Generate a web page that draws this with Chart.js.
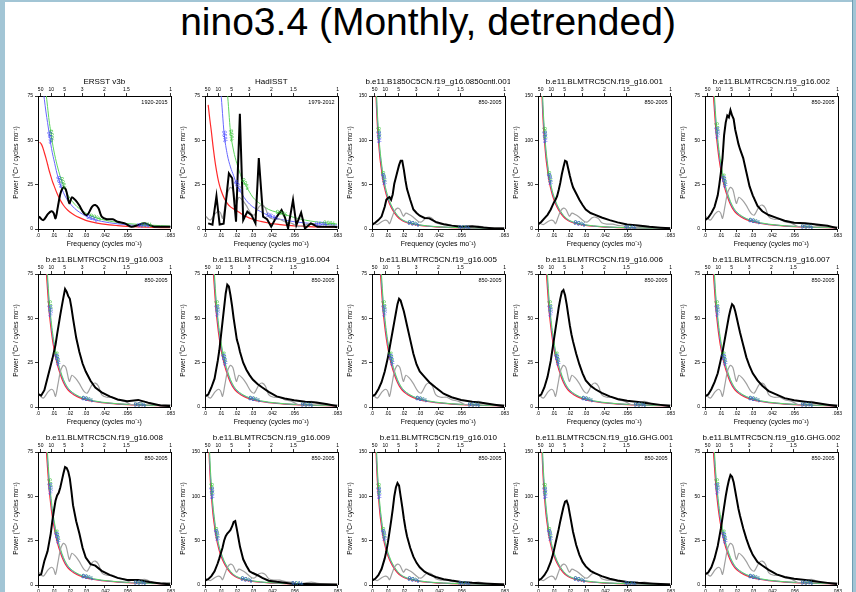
<!DOCTYPE html>
<html>
<head>
<meta charset="utf-8">
<script src="https://cdn.jsdelivr.net/npm/chart.js@4"></script>
<style>
  body { margin: 0; width: 856px; height: 592px; overflow: hidden; background: #fff; position: relative;
         font-family: "Liberation Sans", Arial, sans-serif; }
  .strip { position: absolute; background: #a2c5d5; }
  #title { position: absolute; left: 0; width: 856px; top: 2px; text-align: center;
           font-size: 39px; line-height: 39px; color: #000; }
  canvas { position: absolute; }
</style>
</head>
<body>
<div class="strip" style="left:0;top:0;width:5px;height:592px"></div>
<div class="strip" style="left:0;top:0;width:856px;height:2px"></div>
<div class="strip" style="left:852px;top:0;width:4px;height:592px;border-left:1px solid #6f9db2"></div>
<div id="title">nino3.4 (Monthly, detrended)</div>
<script>
// ---- axis ticks ----
const bottomTickValues = [0, 0.01, 0.02, 0.03, 0.042, 0.056, 0.083];
const bottomTickLabels = ['.0', '.01', '.02', '.03', '.042', '.056', '.083'];
const topTickPeriods = [50, 10, 5, 3, 2, 1.5, 1];     // years
const topTickLabels = ['50', '10', '5', '3', '2', '1.5', '1'];
const yTicks75 = [0, 25, 50, 75];
const yTicks150 = [0, 50, 100, 150];

// ---- panels ----
const panelNames = [
  'ERSST v3b', 'HadISST', 'b.e11.B1850C5CN.f19_g16.0850cntl.001',
  'b.e11.BLMTRC5CN.f19_g16.001', 'b.e11.BLMTRC5CN.f19_g16.002',
  'b.e11.BLMTRC5CN.f19_g16.003', 'b.e11.BLMTRC5CN.f19_g16.004', 'b.e11.BLMTRC5CN.f19_g16.005',
  'b.e11.BLMTRC5CN.f19_g16.006', 'b.e11.BLMTRC5CN.f19_g16.007',
  'b.e11.BLMTRC5CN.f19_g16.008', 'b.e11.BLMTRC5CN.f19_g16.009', 'b.e11.BLMTRC5CN.f19_g16.010',
  'b.e11.BLMTRC5CN.f19_g16.GHG.001', 'b.e11.BLMTRC5CN.f19_g16.GHG.002'
];
const panelYears = ['1920-2015', '1979-2012', '850-2005', '850-2005', '850-2005',
  '850-2005', '850-2005', '850-2005', '850-2005', '850-2005',
  '850-2005', '850-2005', '850-2005', '850-2005', '850-2005'];
const panelYMax = [75, 75, 150, 150, 75, 75, 75, 75, 75, 75, 75, 150, 150, 150, 75];

// ---- observed spectra ----
const ersstFreq = [0.0006, 0.0033, 0.0063, 0.0084, 0.0098, 0.011, 0.0125, 0.0141, 0.016, 0.0176, 0.0197,
  0.0213, 0.0234, 0.0258, 0.0289, 0.031, 0.034, 0.036, 0.038, 0.040, 0.0432, 0.047, 0.050, 0.0545,
  0.0586, 0.0627, 0.0668, 0.070, 0.073, 0.079, 0.0833];
const ersstPower = [7, 5, 8.5, 10, 9, 6, 12.6, 20, 23.5, 22, 14.5, 17.9, 16.4, 13.5, 8.8, 7.9, 12.6, 13.5,
  11.7, 7, 5.5, 5.5, 4.1, 3.2, 1.3, 2.2, 3.2, 2.2, 1.3, 1.3, 1.3];

const hadFreq = [0.002, 0.0047, 0.0072, 0.0092, 0.0117, 0.0150, 0.0171, 0.0195, 0.0219, 0.0240, 0.0266,
  0.0293, 0.0317, 0.0338, 0.0365, 0.0390, 0.0416, 0.0444, 0.0481, 0.0502, 0.0522, 0.0553, 0.0574,
  0.0604, 0.0628, 0.0665, 0.0707, 0.0748, 0.0810, 0.0833];
const hadPower = [3.2, 2.4, 18.6, 2.5, 3, 31.4, 28.6, 4.1, 65, 5, 9.8, 7.7, 3.2, 40, 7, 5.5, 1.3, 6, 10.7,
  6.6, 0.3, 16.4, 2.2, 9.2, 0.3, 3.2, 1.3, 1.3, 1.3, 1];

// ---- model spectra (common frequency grid) ----
const specGrid = [0, .002, .004, .006, .008, .009, .010, .011, .012, .013, .014, .015, .016, .017, .018,
  .019, .020, .021, .022, .024, .026, .028, .030, .033, .036, .040, .045, .050, .056, .063, .070, .077, .083];
const cntl001 = [4.5, 7, 10, 14, 25, 33, 35, 36, 33, 39, 51, 58, 65, 72, 77, 77, 67, 55, 45, 33, 22, 18, 15, 12.5, 12, 8, 5.3, 3.8, 2.6, 3.2, 1.6, 0.7, 0.6];
const lm001 = [5, 8, 12, 16, 22, 26, 30, 33, 37, 44, 52, 62, 70, 77, 76, 68, 60, 53, 47, 40, 33, 27, 22, 18, 16, 13, 10, 7.5, 5, 4, 2.5, 1.5, 0.8];
const lm002 = [5, 6.3, 9, 12.5, 19, 25, 32, 40, 53, 60, 64, 63, 67, 64, 62, 56, 52, 48, 45, 40, 32, 24, 19, 13, 10, 7.9, 6.3, 4.7, 3.5, 3.2, 2.5, 1.8, 0.5];
const lm003 = [7.3, 6.5, 9.5, 16.5, 23.5, 27, 31, 35, 41, 46.5, 52, 57, 62, 66.5, 65, 62.5, 61, 56, 50, 39, 31, 24.5, 20, 14.8, 11, 8.3, 6, 4.2, 3.2, 4, 2.2, 0.9, 0.5];
const lm004 = [6, 7, 11, 16, 26, 32, 40, 48, 56, 64, 69, 68, 63, 57, 50, 44, 38, 35, 31, 25, 21, 18, 15.5, 13, 11, 8.5, 6, 4.8, 3.8, 3, 2.5, 1.5, 0.5];
const lm005 = [6, 7, 10, 14, 20, 24, 28, 33, 38, 43, 48, 53, 58, 61, 60, 57, 54, 50, 46, 38, 30, 24, 20, 17, 14, 11, 7.5, 5.5, 4, 3, 2.2, 1.3, 0.5];
const lm006 = [6, 7, 11, 17, 26, 32, 38, 44, 50, 56, 61, 65, 66, 63, 58, 52, 46, 41, 37, 30, 24, 19, 15, 12, 10, 8, 6, 4.5, 3.5, 2.8, 2, 1.2, 0.5];
const lm007 = [6, 7, 10, 14, 19, 23, 27, 31, 36, 41, 46, 51, 55, 58, 57, 54, 50, 46, 42, 35, 28, 23, 19, 15, 12, 9, 7, 5, 3.8, 3, 2.2, 1.3, 0.5];
const lm008 = [5.3, 6, 13.5, 19, 29, 36, 42, 47.5, 50.5, 52, 55, 59, 63, 66.5, 66, 64, 60, 53, 45, 36, 29, 21, 15.5, 11.8, 10.9, 8, 5.7, 4, 2.8, 2.8, 1.7, 0.8, 0.4];
const lm009 = [5, 6.5, 10, 15.5, 24.5, 30, 36, 42, 50, 55, 58, 60, 62, 66, 71, 72, 63, 53, 43, 29, 21.8, 15.5, 13.5, 11, 8, 4.9, 3.6, 2.6, 1.2, 1.2, 0.9, 0.5, 0.3];
const lm010 = [5, 7, 11, 18, 30, 38, 48, 60, 72, 85, 100, 110, 115, 112, 100, 88, 75, 64, 55, 42, 32, 25, 20, 15, 12, 9, 6.5, 5, 3.5, 2.5, 1.8, 1, 0.5];
const ghg001 = [5, 7, 11, 17, 26, 32, 39, 47, 55, 63, 72, 80, 88, 94, 95, 90, 80, 70, 60, 45, 34, 26, 21, 16, 13, 10, 7, 5, 3.5, 2.5, 1.8, 1, 0.5];
const ghg002 = [6, 7, 10, 15, 22, 27, 32, 38, 44, 50, 55, 59, 62, 61, 58, 53, 48, 43, 39, 32, 26, 21, 17, 13, 11, 8.5, 6, 4.5, 3.5, 2.8, 2, 1.2, 0.5];

// ---- red-noise spectrum and 95% / 99% levels ----
const curveGrid = [0.001, 0.002, 0.003, 0.004, 0.005, 0.006, 0.007, 0.008, 0.009, 0.010, 0.012, 0.014,
  0.016, 0.018, 0.020, 0.023, 0.026, 0.030, 0.035, 0.040, 0.045, 0.050, 0.056, 0.063, 0.070, 0.077, 0.083];
const ersstRed = [49, 48, 46, 43, 40, 36.5, 33, 30, 27, 24.6, 20, 16.3, 13.4, 11.2, 9.6, 7.8, 6.4, 4.9, 3.7, 2.9, 2.3, 1.9, 1.5, 1.2, 1.0, 0.8, 0.7];
const ersst95 = [85, 82, 79, 73, 66, 60, 54, 48, 43, 39, 31, 25, 20.5, 17, 14.5, 11.6, 9.5, 7.3, 5.4, 4.3, 3.5, 2.9, 2.4, 2.0, 1.7, 1.5, 1.4];
const ersst99 = [100, 97, 92, 86, 77, 69, 61, 55, 49, 44, 36, 29.5, 24.5, 20.5, 17.5, 14, 11.5, 9, 6.8, 5.4, 4.4, 3.7, 3.1, 2.6, 2.2, 1.9, 1.7];
const hadRed = [null, 70, 62, 55, 47, 40, 34, 29, 25, 22, 17.5, 14.5, 12.5, 11.3, 10.3, 8.5, 7, 5.5, 4.3, 3.4, 2.7, 2.2, 1.8, 1.5, 1.2, 1.1, 1.0];
const had95 = [null, 200, 180, 160, 140, 122, 106, 93, 83, 76.5, 54, 42, 35, 30, 25, 20, 16, 12.5, 9.8, 7.6, 6, 5, 4.1, 3.4, 2.9, 2.5, 2.2];
const had99 = [null, 280, 250, 220, 195, 170, 150, 132, 117, 105, 88, 77, 55, 44, 37, 29, 24, 18, 14, 11, 9.5, 8.2, 6.5, 5, 4, 3.3, 2.8];
const modelRed = [330, 187, 130, 101, 80, 66, 54, 45.5, 38.5, 33, 24.5, 18.5, 13.8, 10.6, 8.5, 6.6, 5.3, 4.1, 3.1, 2.45, 2.0, 1.65, 1.35, 1.1, 0.9, 0.75, 0.65];
const model95 = [350, 200, 139, 108, 86, 71, 58, 48.7, 41.2, 35.3, 26.2, 19.8, 14.8, 11.3, 9.1, 7.1, 5.7, 4.4, 3.3, 2.6, 2.15, 1.77, 1.45, 1.18, 0.96, 0.8, 0.7];
const model99 = [370, 210, 146, 113, 90, 74, 60.5, 51, 43, 37, 27.4, 20.7, 15.5, 11.9, 9.5, 7.4, 5.9, 4.6, 3.5, 2.75, 2.25, 1.85, 1.5, 1.23, 1.0, 0.84, 0.73];

// where the "95%" / "99%" line labels sit (frequency)
const ersstLabelFreq95 = [0.0074, 0.0135, 0.034, 0.066];
const ersstLabelFreq99 = [0.0084, 0.0154, 0.036, 0.068];
const hadLabelFreq95 = [0.0123, 0.0205, 0.042, 0.073];
const hadLabelFreq99 = [0.0164, 0.0252, 0.048, 0.078];
const modelLabelFreq75 = [0.0074, 0.0119, 0.031, 0.064];
const modelLabelFreq150 = [0.0042, 0.0072, 0.026, 0.058];

const modelSpectra = [cntl001, lm001, lm002, lm003, lm004, lm005, lm006, lm007, lm008, lm009, lm010, ghg001, ghg002];

// ---- layout ----
const colLeft = [38, 205, 372, 538, 705];
const rowTop = [96, 274, 452];
const PLOT = 133;
const FONT = '"Liberation Sans", Arial, sans-serif';
Chart.defaults.font.family = FONT;

function toPoints(xs, ys) {
  return xs.map((x, i) => ({ x: x, y: ys[i] }));
}

function interp(xs, ys, f) {
  for (let i = 0; i < xs.length - 1; i++) {
    if (ys[i] == null || ys[i + 1] == null) continue;
    if (f >= xs[i] && f <= xs[i + 1]) {
      const t = (f - xs[i]) / (xs[i + 1] - xs[i]);
      return ys[i] + t * (ys[i + 1] - ys[i]);
    }
  }
  return null;
}

const panelDecor = {
  id: 'panelDecor',
  afterDatasetsDraw(chart, args, opts) {
    const { ctx, chartArea: a } = chart;
    const xs = chart.scales.x, ys = chart.scales.y;
    ctx.save();
    ctx.beginPath();
    ctx.rect(a.left, a.top, a.right - a.left, a.bottom - a.top);
    ctx.clip();
    ctx.font = '6px ' + FONT;
    ctx.textAlign = 'center';
    ctx.textBaseline = 'middle';
    opts.labels.forEach(lb => {
      lb.freqs.forEach(f => {
        const v = interp(curveGrid, lb.values, f);
        if (v == null) return;
        const px = xs.getPixelForValue(f), py = ys.getPixelForValue(v);
        const p1x = xs.getPixelForValue(f - 0.0006), p1y = ys.getPixelForValue(interp(curveGrid, lb.values, f - 0.0006) ?? v);
        const p2x = xs.getPixelForValue(f + 0.0006), p2y = ys.getPixelForValue(interp(curveGrid, lb.values, f + 0.0006) ?? v);
        const ang = Math.atan2(p2y - p1y, p2x - p1x);
        ctx.save();
        ctx.translate(px, py);
        ctx.rotate(ang);
        ctx.fillStyle = lb.color;
        ctx.fillText(lb.text, 0, 0);
        ctx.restore();
      });
    });
    ctx.restore();
  },
  afterDraw(chart, args, opts) {
    const { ctx, chartArea: a } = chart;
    ctx.save();
    ctx.strokeStyle = '#000';
    ctx.lineWidth = 1;
    ctx.beginPath();
    ctx.moveTo(Math.round(a.right) + 0.5, a.top);
    ctx.lineTo(Math.round(a.right) + 0.5, a.bottom);
    ctx.stroke();
    ctx.fillStyle = '#000';
    const cx = (a.left + a.right) / 2;
    ctx.textAlign = 'center';
    ctx.textBaseline = 'alphabetic';
    ctx.font = '8px ' + FONT;
    ctx.fillText(opts.name, cx, a.top - 12);
    ctx.font = '7px ' + FONT;
    ctx.fillText('Frequency (cycles mo\u207B\u00B9)', cx, a.bottom + 17);
    ctx.font = '5.5px ' + FONT;
    ctx.textAlign = 'right';
    ctx.fillText(opts.years, a.right - 3, a.top + 8);
    ctx.translate(a.left - 22, (a.top + a.bottom) / 2);
    ctx.rotate(-Math.PI / 2);
    ctx.textAlign = 'center';
    ctx.textBaseline = 'middle';
    ctx.font = '6.5px ' + FONT;
    ctx.fillText('Power (\u00B0C\u00B2 / cycles mo\u207B\u00B9)', 0, 0);
    ctx.restore();
  }
};

function axisStyle() {
  return {
    grid: { display: true, drawOnChartArea: false, drawTicks: true, tickLength: 3, color: '#000', lineWidth: 0.8 },
    border: { display: true, color: '#000', width: 1 },
  };
}

function buildPanel(i) {
  const canvas = document.createElement('canvas');
  const W = 38 + PLOT + 5, H = 192;
  canvas.width = W; canvas.height = H;
  canvas.style.width = W + 'px'; canvas.style.height = H + 'px';
  canvas.style.left = (colLeft[i % 5] - 38) + 'px';
  canvas.style.top = (rowTop[Math.floor(i / 5)] - 36) + 'px';
  document.body.appendChild(canvas);

  let blackX, blackY, red, c95, c99, lf95, lf99;
  if (i === 0) {
    blackX = ersstFreq; blackY = ersstPower;
    red = ersstRed; c95 = ersst95; c99 = ersst99; lf95 = ersstLabelFreq95; lf99 = ersstLabelFreq99;
  } else if (i === 1) {
    blackX = hadFreq; blackY = hadPower;
    red = hadRed; c95 = had95; c99 = had99; lf95 = hadLabelFreq95; lf99 = hadLabelFreq99;
  } else {
    blackX = specGrid; blackY = modelSpectra[i - 2];
    red = modelRed; c95 = model95; c99 = model99;
    lf95 = lf99 = panelYMax[i] === 150 ? modelLabelFreq150 : modelLabelFreq75;
  }
  const yMax = panelYMax[i];
  const yTicks = yMax === 150 ? yTicks150 : yTicks75;

  const blackTension = i === 0 ? 0.3 : 0;
  const datasets = [
    { data: toPoints(blackX, blackY), borderColor: '#000', borderWidth: 2, tension: blackTension, order: 0 },
    { data: toPoints(ersstFreq, ersstPower), borderColor: '#a0a0a0', borderWidth: 1.2, tension: 0.3, order: 1 },
    { data: toPoints(curveGrid, c99), borderColor: '#5fd65f', borderWidth: 1, cubicInterpolationMode: 'monotone', order: 2 },
    { data: toPoints(curveGrid, c95), borderColor: '#6868ff', borderWidth: 1, cubicInterpolationMode: 'monotone', order: 3 },
    { data: toPoints(curveGrid, red), borderColor: '#ff2a2a', borderWidth: 1.2, cubicInterpolationMode: 'monotone', order: 4 },
  ];

  new Chart(canvas, {
    type: 'line',
    data: { datasets: datasets },
    options: {
      responsive: false,
      animation: false,
      events: [],
      layout: { padding: { left: 0, right: 5, top: 0, bottom: 0 } },
      elements: { point: { radius: 0 }, line: { fill: false } },
      plugins: {
        legend: { display: false },
        tooltip: { enabled: false },
        panelDecor: { name: panelNames[i], years: panelYears[i], labels: [
          { text: '99%', color: '#2fbf2f', values: c99, freqs: lf99 },
          { text: '95%', color: '#3a3aff', values: c95, freqs: lf95 },
        ] },
      },
      scales: {
        x: {
          type: 'linear', position: 'bottom', min: 0, max: 1 / 12,
          afterBuildTicks: s => { s.ticks = bottomTickValues.map(v => ({ value: v })); },
          afterFit: s => { s.height = H - 36 - PLOT; },
          ticks: { autoSkip: false, maxRotation: 0, padding: 1, color: '#000', font: { size: 5 },
                   callback: (v, k) => bottomTickLabels[k] },
          ...axisStyle(),
        },
        x2: {
          type: 'linear', position: 'top', min: 0, max: 1 / 12,
          afterBuildTicks: s => { s.ticks = topTickPeriods.map(p => ({ value: 1 / (12 * p) })); },
          afterFit: s => { s.height = 36; },
          ticks: { autoSkip: false, maxRotation: 0, padding: 0, color: '#000', font: { size: 5 },
                   callback: (v, k) => topTickLabels[k] },
          ...axisStyle(),
        },
        y: {
          type: 'linear', min: 0, max: yMax,
          afterBuildTicks: s => { s.ticks = yTicks.map(v => ({ value: v })); },
          afterFit: s => { s.width = 38; },
          ticks: { autoSkip: false, padding: 2, color: '#000', font: { size: 5 } },
          ...axisStyle(),
        },
      },
    },
    plugins: [panelDecor],
  });
}

for (let i = 0; i < panelNames.length; i++) buildPanel(i);
</script>
</body>
</html>
